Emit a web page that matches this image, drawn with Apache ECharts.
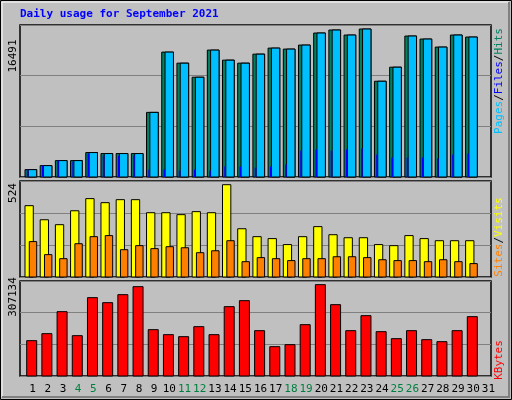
<!DOCTYPE html>
<html><head><meta charset="utf-8">
<script src="https://cdn.jsdelivr.net/npm/echarts@6/dist/echarts.min.js"></script>
<style>html,body{margin:0;padding:0;background:#C0C0C0}#c{width:512px;height:400px}</style>
</head><body><div id="c"></div>
<script>
const days = ['1','2','3','4','5','6','7','8','9','10','11','12','13','14','15','16','17','18','19','20','21','22','23','24','25','26','27','28','29','30','31'];
const weekend = ['4','5','11','12','18','19','25','26'];
const hits = [821,1269,1828,1828,2724,2612,2612,2612,7201,13917,12686,11119,14141,13022,12686,13693,14365,14253,14701,16044,16380,15820,16491,10671,12238,15708,15372,14477,15820,15596,0];
const files = [821,1269,1828,1828,2724,2612,2612,2612,7201,13917,12686,11119,14141,13022,12686,13693,14365,14253,14701,16044,16380,15820,16491,10671,12238,15708,15372,14477,15820,15596,0];
const pages = [821,1269,1828,1716,2612,2388,2388,2388,821,821,709,821,709,1157,1157,1045,1157,1380,2948,3059,2948,3059,3171,2500,2164,2164,2164,2052,2500,2612,0];
const visits = [405,325,297,376,445,422,439,439,365,365,354,371,365,524,274,229,218,184,229,286,240,223,223,184,178,235,218,206,206,206,0];
const sites = [201,127,104,189,229,235,155,178,161,172,166,138,149,206,87,110,104,93,104,104,115,115,110,98,93,93,87,98,87,76,0];
const kbytes = [118826,142367,216353,135641,263435,246620,273524,300428,155819,139004,132278,165908,139004,233168,253346,152456,98648,105374,172634,307134,239894,152456,202901,149093,125552,152456,122189,115463,152456,199538,0];
const maxLabels = ['16491','524','307134'];
const scaleMax = [16939, 545, 319465];

const mono = 'DejaVu Sans Mono';
function bar(api, i, v, x0, x1, color, lw) {
  const p = api.coord([i, v]);
  const b = api.coord([i, 0]);
  if (v <= 0) return null;
  return {type:'rect', shape:{x:p[0]+x0, y:p[1], width:x1-x0, height:b[1]-p[1]},
    style:{fill:color, stroke:lw===0?null:'#000', lineWidth:lw===undefined?1:lw}};
}
const idx = days.map((d,i)=>i);
const grids = [
  {left:20, width:471, top:25, height:152},
  {left:20, width:471, top:181, height:96},
  {left:20, width:471, top:281, height:95}
];
const xAxes = grids.map((g,k)=>({type:'category', gridIndex:k, data:days, boundaryGap:true,
  axisLine:{show:false}, axisTick:{show:false},
  axisLabel:{show:k===2, interval:0, margin:8, padding:[0,0,0,10], fontFamily:mono, fontSize:11,
    formatter:v=>weekend.includes(v)?'{w|'+v+'}':'{n|'+v+'}',
    rich:{w:{color:'#008040',fontFamily:mono,fontSize:11},n:{color:'#000',fontFamily:mono,fontSize:11}}}}));
const yAxes = grids.map((g,k)=>({type:'value', gridIndex:k, min:0, max:scaleMax[k], interval:scaleMax[k]/3,
  axisLabel:{show:false}, axisLine:{show:false}, axisTick:{show:false},
  splitLine:{show:true, lineStyle:{color:'#808080', width:1}}}));
const f11 = '11px "DejaVu Sans Mono"';
const opt = {
  backgroundColor:'#C0C0C0', animation:false,
  grid: grids.map(g=>Object.assign({show:true, borderColor:'#000', borderWidth:1.5, backgroundColor:'transparent'}, g)),
  xAxis:xAxes, yAxis:yAxes,
  series:[
    {type:'custom', xAxisIndex:0, yAxisIndex:0, data:idx.map(i=>[i,hits[i],files[i],pages[i]]),
     renderItem:(p,api)=>{const i=api.value(0);return {type:'group',children:[bar(api,i,api.value(1),-2.6,9.1,'#008060'),bar(api,i,api.value(2),0.7,9.1,'#00BFFF'),bar(api,i,api.value(3),-0.8,0.8,'#0000FF',0)].filter(Boolean)};}},
    {type:'custom', xAxisIndex:1, yAxisIndex:1, data:idx.map(i=>[i,visits[i],sites[i]]),
     renderItem:(p,api)=>{const i=api.value(0);return {type:'group',children:[bar(api,i,api.value(1),-2.6,5.7,'#FFFF00'),bar(api,i,api.value(2),1.7,9.1,'#FF8000')].filter(Boolean)};}},
    {type:'custom', xAxisIndex:2, yAxisIndex:2, data:idx.map(i=>[i,kbytes[i]]),
     renderItem:(p,api)=>{const i=api.value(0);return {type:'group',children:[bar(api,i,api.value(1),-0.9,9.1,'#FF0000')].filter(Boolean)};}}
  ],
  graphic:[
    {type:'rect', shape:{x:0.5,y:0.5,width:511,height:399}, style:{fill:'none',stroke:'#000',lineWidth:1}, silent:true},
    {type:'rect', shape:{x:2,y:2,width:507,height:395}, style:{fill:'none',stroke:'#fff',lineWidth:1}, silent:true},
    {type:'polyline', shape:{points:[[509,2],[509,397],[2,397]]}, style:{stroke:'#808080',lineWidth:2,fill:'none'}, silent:true},
    {type:'text', left:20, top:9, style:{text:'Daily usage for September 2021', fill:'#0000FF', font:'bold 11px "DejaVu Sans Mono"'}},
    {type:'text', x:8, y:56, rotation:Math.PI/2, style:{text:maxLabels[0], fill:'#000', font:f11, align:'center', verticalAlign:'top'}},
    {type:'text', x:8, y:193, rotation:Math.PI/2, style:{text:maxLabels[1], fill:'#000', font:f11, align:'center', verticalAlign:'top'}},
    {type:'text', x:8, y:297, rotation:Math.PI/2, style:{text:maxLabels[2], fill:'#000', font:f11, align:'center', verticalAlign:'top'}},
    {type:'text', x:494, y:81, rotation:Math.PI/2, style:{text:'{a|Pages}{s|/}{b|Files}{s|/}{c|Hits}', align:'center', verticalAlign:'top', font:f11,
      rich:{a:{fill:'#00BFFF',font:f11},b:{fill:'#0000FF',font:f11},c:{fill:'#008060',font:f11},s:{fill:'#000',font:f11}}}},
    {type:'text', x:494, y:237, rotation:Math.PI/2, style:{text:'{a|Sites}{s|/}{b|Visits}', align:'center', verticalAlign:'top', font:f11,
      rich:{a:{fill:'#FF8000',font:f11},b:{fill:'#FFFF00',font:f11},s:{fill:'#000',font:f11}}}},
    {type:'text', x:494, y:360, rotation:Math.PI/2, style:{text:'KBytes', fill:'#FF0000', align:'center', verticalAlign:'top', font:f11}}
  ]
};
echarts.init(document.getElementById('c')).setOption(opt);
</script></body></html>
